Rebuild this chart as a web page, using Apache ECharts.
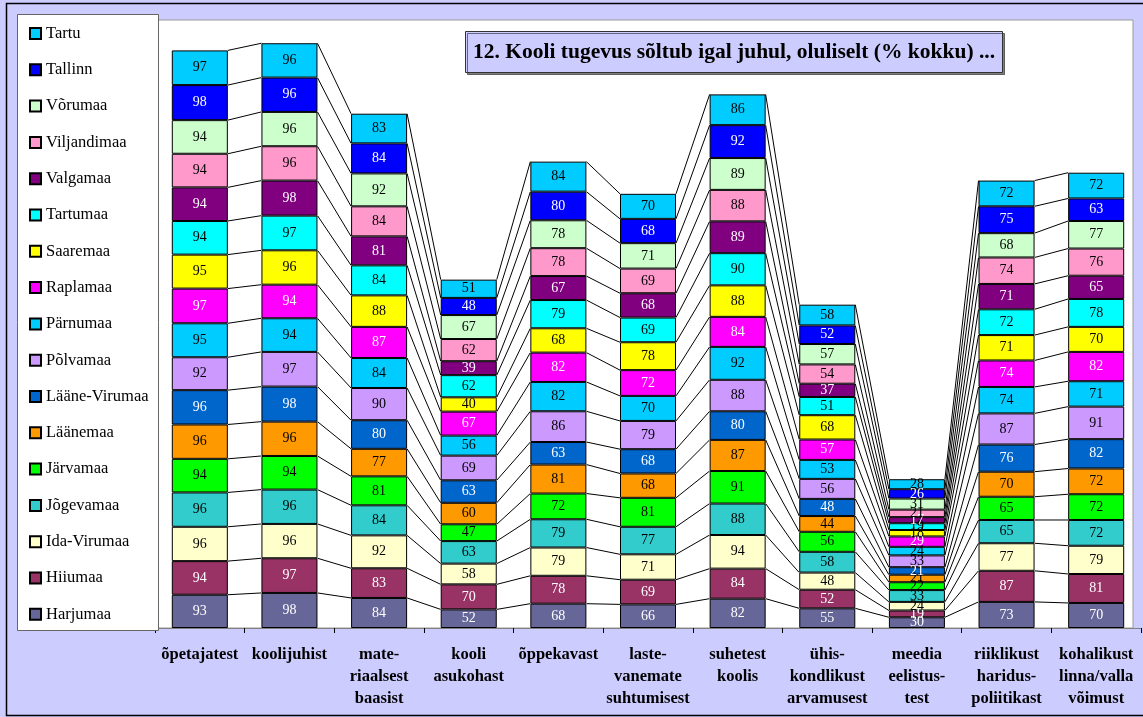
<!DOCTYPE html>
<html>
<head>
<meta charset="utf-8">
<script src="https://cdn.jsdelivr.net/npm/echarts@6/dist/echarts.min.js"></script>
<style>
html,body{margin:0;padding:0;background:#CCCCFF;}
#chart{width:1143px;height:717px;}
</style>
</head>
<body>
<div id="chart"></div>
<script>
var categories = ['õpetajatest', 'koolijuhist', 'mate-\nriaalsest\nbaasist', 'kooli\nasukohast', 'õppekavast',
  'laste-\nvanemate\nsuhtumisest', 'suhetest\nkoolis', 'ühis-\nkondlikust\narvamusest', 'meedia\neelistus-\ntest',
  'riiklikust\nharidus-\npoliitikast', 'kohalikust\nlinna/valla\nvõimust'];

var harjumaa     = [93, 98, 84, 52, 68, 66, 82, 55, 30, 73, 70];
var hiiumaa      = [94, 97, 83, 70, 78, 69, 84, 52, 19, 87, 81];
var idaVirumaa   = [96, 96, 92, 58, 79, 71, 94, 48, 24, 77, 79];
var jogevamaa    = [96, 96, 84, 63, 79, 77, 88, 58, 33, 65, 72];
var jarvamaa     = [94, 94, 81, 47, 72, 81, 91, 56, 22, 65, 72];
var laanemaa     = [96, 96, 77, 60, 81, 68, 87, 44, 21, 70, 72];
var laaneVirumaa = [96, 98, 80, 63, 63, 68, 80, 48, 21, 76, 82];
var polvamaa     = [92, 97, 90, 69, 86, 79, 88, 56, 33, 87, 91];
var parnumaa     = [95, 94, 84, 56, 82, 70, 92, 53, 24, 74, 71];
var raplamaa     = [97, 94, 87, 67, 82, 72, 84, 57, 29, 74, 82];
var saaremaa     = [95, 96, 88, 40, 68, 78, 88, 68, 18, 71, 70];
var tartumaa     = [94, 97, 84, 62, 79, 69, 90, 51, 19, 72, 78];
var valgamaa     = [94, 98, 81, 39, 67, 68, 89, 37, 17, 71, 65];
var viljandimaa  = [94, 96, 84, 62, 78, 69, 88, 54, 21, 74, 76];
var vorumaa      = [94, 96, 92, 67, 78, 71, 89, 57, 31, 68, 77];
var tallinn      = [98, 96, 84, 48, 80, 68, 92, 52, 26, 75, 63];
var tartu        = [97, 96, 83, 51, 84, 70, 86, 58, 28, 72, 72];

var seriesNames = ['Harjumaa', 'Hiiumaa', 'Ida-Virumaa', 'Jõgevamaa', 'Järvamaa', 'Läänemaa', 'Lääne-Virumaa',
  'Põlvamaa', 'Pärnumaa', 'Raplamaa', 'Saaremaa', 'Tartumaa', 'Valgamaa', 'Viljandimaa', 'Võrumaa', 'Tallinn', 'Tartu'];
var seriesValues = [harjumaa, hiiumaa, idaVirumaa, jogevamaa, jarvamaa, laanemaa, laaneVirumaa, polvamaa, parnumaa,
  raplamaa, saaremaa, tartumaa, valgamaa, viljandimaa, vorumaa, tallinn, tartu];
var seriesColors = ['#666699', '#993366', '#FFFFCC', '#33CCCC', '#00FF00', '#FF9900', '#0066CC', '#CC99FF', '#00CCFF',
  '#FF00FF', '#FFFF00', '#00FFFF', '#800080', '#FF99CC', '#CCFFCC', '#0000FF', '#00CCFF'];
var labelColors = ['#fff', '#fff', '#000', '#000', '#000', '#000', '#fff', '#000', '#000',
  '#fff', '#000', '#000', '#fff', '#000', '#000', '#fff', '#000'];

var serif = '"Liberation Serif", "DejaVu Serif", serif';
var BAR_FRAC = 0.625;

var chart = echarts.init(document.getElementById('chart'));

var series = seriesNames.map(function (name, s) {
  return {
    name: name,
    type: 'bar',
    stack: 'total',
    barWidth: (BAR_FRAC * 100) + '%',
    data: seriesValues[s],
    itemStyle: { color: seriesColors[s], borderColor: '#000', borderWidth: 1 },
    label: {
      show: true, position: 'inside', formatter: '{c}',
      color: labelColors[s], fontFamily: serif, fontSize: 14
    },
    emphasis: { disabled: true },
    z: 3
  };
});

var gapData = [];
for (var g = 0; g < categories.length - 1; g++) gapData.push([g, 0]);

series.push({
  type: 'custom',
  name: 'seriesLines',
  data: gapData,
  z: 2,
  silent: true,
  renderItem: function (params, api) {
    var i = api.value(0);
    var half = api.size([1, 0])[0] * BAR_FRAC / 2;
    var children = [];
    var c1 = 0, c2 = 0;
    for (var s = 0; s < seriesValues.length; s++) {
      c1 += seriesValues[s][i];
      c2 += seriesValues[s][i + 1];
      var p1 = api.coord([i, c1]);
      var p2 = api.coord([i + 1, c2]);
      children.push({
        type: 'line',
        shape: { x1: p1[0] + half, y1: p1[1], x2: p2[0] - half, y2: p2[1] },
        style: { stroke: '#000', lineWidth: 1 }
      });
    }
    return { type: 'group', children: children };
  }
});

chart.setOption({
  backgroundColor: '#CCCCFF',
  animation: false,
  title: {
    text: '12. Kooli tugevus sõltub igal juhul, oluliselt (% kokku) ...',
    left: 465, top: 31,
    padding: [10, 8, 10, 8],
    backgroundColor: '#CCCCFF',
    borderColor: '#333',
    borderWidth: 1,
    shadowColor: 'rgba(0,0,0,0.5)',
    shadowOffsetX: 2, shadowOffsetY: 2, shadowBlur: 0,
    textStyle: { fontFamily: serif, fontWeight: 'bold', fontSize: 21.5, color: '#000' }
  },
  graphic: [
    { type: 'rect', z: -10, shape: { x: 155, y: 20, width: 978, height: 608 },
      style: { fill: '#fff', stroke: '#999', lineWidth: 1 } },
    { type: 'rect', z: 100, shape: { x: 17.5, y: 14.5, width: 141, height: 616 },
      style: { fill: '#fff', stroke: '#666', lineWidth: 1 } },
    { type: 'rect', z: 100, shape: { x: 6.5, y: 3.5, width: 1140, height: 712 },
      style: { fill: 'none', stroke: '#000', lineWidth: 1.5 } }
  ],
  legend: {
    orient: 'vertical',
    left: 17, top: 14,
    padding: [11, 8, 10, 12],
    itemWidth: 11, itemHeight: 11,
    itemGap: 19.3,
    icon: 'rect',
    z: 110,
    data: seriesNames.slice().reverse(),
    textStyle: { fontFamily: serif, fontSize: 16.5, color: '#000', lineHeight: 16 },
    selectedMode: false
  },
  grid: { left: 155, right: 2, top: 20, bottom: 89 },
  xAxis: {
    type: 'category',
    data: categories,
    axisLine: { show: true, lineStyle: { color: '#808080' } },
    axisTick: { show: true, length: 5, lineStyle: { color: '#000' } },
    axisLabel: {
      interval: 0, margin: 16,
      fontFamily: serif, fontWeight: 'bold', fontSize: 16.5, lineHeight: 22, color: '#000'
    }
  },
  yAxis: {
    type: 'value', min: 0, max: 1700,
    axisLabel: { show: false }, axisLine: { show: false }, axisTick: { show: false },
    splitLine: { show: false }
  },
  series: series
});
</script>
</body>
</html>
